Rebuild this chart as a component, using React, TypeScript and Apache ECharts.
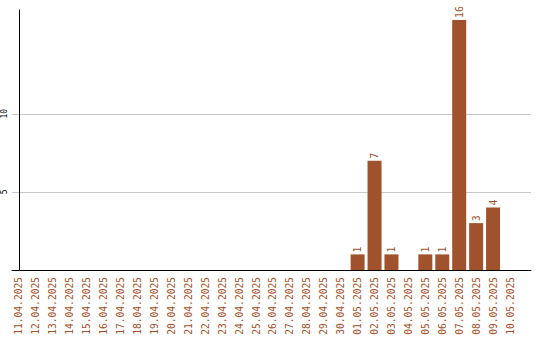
import React, { useEffect, useRef } from "react";
import * as echarts from "echarts";

// Daily counts, 11.04.2025 – 10.05.2025
const days: string[] = [
  "11.04.2025", "12.04.2025", "13.04.2025", "14.04.2025", "15.04.2025",
  "16.04.2025", "17.04.2025", "18.04.2025", "19.04.2025", "20.04.2025",
  "21.04.2025", "22.04.2025", "23.04.2025", "24.04.2025", "25.04.2025",
  "26.04.2025", "27.04.2025", "28.04.2025", "29.04.2025", "30.04.2025",
  "01.05.2025", "02.05.2025", "03.05.2025", "04.05.2025", "05.05.2025",
  "06.05.2025", "07.05.2025", "08.05.2025", "09.05.2025", "10.05.2025",
];

const counts: number[] = [
  0, 0, 0, 0, 0, 0, 0, 0, 0, 0,
  0, 0, 0, 0, 0, 0, 0, 0, 0, 0,
  1, 7, 1, 0, 1, 1, 16, 3, 4, 0,
];

const yTicks: number[] = [5, 10];

const BAR = "#a0522d";
const MONO = "'DejaVu Sans Mono', 'Liberation Mono', monospace";

export default function App() {
  const ref = useRef<HTMLDivElement>(null);

  useEffect(() => {
    if (!ref.current) return;
    const chart = echarts.init(ref.current, undefined, { renderer: "svg" });
    const dayIdx = days.map((_, i) => i);

    chart.setOption({
      animation: false,
      grid: { left: 10, right: 9, top: 10, bottom: 70 },
      xAxis: {
        type: "value",
        min: -0.41,
        max: 30.24,
        axisLine: { show: true, lineStyle: { color: "#000", width: 1 } },
        axisTick: { show: false, customValues: dayIdx },
        splitLine: { show: false },
        axisLabel: {
          customValues: dayIdx,
          rotate: 90,
          margin: 7,
          color: BAR,
          fontFamily: MONO,
          fontSize: 9.6,
          formatter: (v: number) => days[Math.round(v)] ?? "",
        },
      },
      yAxis: {
        type: "value",
        min: 0,
        max: 16.64,
        axisLine: { show: true, lineStyle: { color: "#000", width: 1 } },
        axisTick: { show: false, customValues: yTicks },
        splitLine: { show: true, lineStyle: { color: "#c8c8c8", width: 1 } },
        axisLabel: {
          customValues: yTicks,
          rotate: 90,
          margin: 4,
          color: "#000",
          fontFamily: MONO,
          fontSize: 8,
        },
      },
      series: [
        {
          type: "bar",
          barWidth: 14,
          itemStyle: { color: BAR },
          data: counts.map((c, i) => [i, c]),
          label: {
            show: true,
            position: "top",
            rotate: 90,
            align: "left",
            verticalAlign: "middle",
            distance: 2,
            color: BAR,
            fontFamily: MONO,
            fontSize: 10,
            formatter: (p: any) => (p.value[1] ? String(p.value[1]) : ""),
          },
        },
      ],
    });

    return () => chart.dispose();
  }, []);

  return (
    <div
      ref={ref}
      style={{ position: "absolute", left: 0, top: 0, width: 540, height: 340 }}
    />
  );
}
